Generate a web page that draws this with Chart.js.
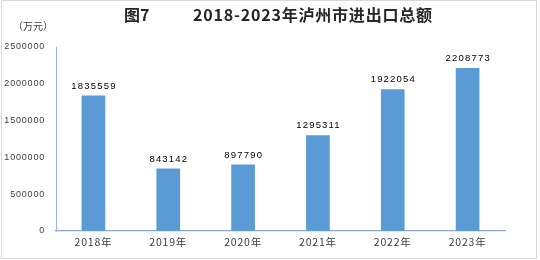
<!DOCTYPE html>
<html>
<head>
<meta charset="utf-8">
<script src="https://cdn.jsdelivr.net/npm/chart.js@4/dist/chart.umd.min.js"></script>
<style>
  html, body { margin: 0; padding: 0; background: #ffffff; }
  #wrap { width: 540px; height: 260px; position: relative; }
</style>
</head>
<body>
<div id="wrap"><canvas id="c" width="540" height="260"></canvas></div>
<script>
const categories = ['2018年', '2019年', '2020年', '2021年', '2022年', '2023年'];
const totals = [1835559, 843142, 897790, 1295311, 1922054, 2208773];
const yTicks = [0, 500000, 1000000, 1500000, 2000000, 2500000];
const titleFig = '图7';
const titleMain = '2018-2023年泸州市进出口总额';
const unitLabel = '（万元）';

const spacing = {
  id: 'spacing',
  beforeLayout(chart) { chart.ctx.letterSpacing = '0.8px'; },
  beforeDraw(chart) { chart.ctx.letterSpacing = '0.8px'; }
};

const decor = {
  id: 'decor',
  afterDatasetsDraw(chart) {
    const ctx = chart.ctx;
    ctx.save();
    ctx.letterSpacing = '0px';
    // frame
    ctx.strokeStyle = '#D9D9D9';
    ctx.lineWidth = 1;
    ctx.strokeRect(1.5, 0.5, 535, 258);
    // titles
    ctx.fillStyle = '#262626';
    ctx.font = 'bold 16px "Noto Sans CJK SC"';
    ctx.textBaseline = 'middle';
    ctx.textAlign = 'left';
    ctx.fillText(titleFig, 124, 15);
    ctx.letterSpacing = '0.8px';
    ctx.fillText(titleMain, 193, 15);
    ctx.letterSpacing = '0px';
    // unit
    ctx.font = '10px "Noto Sans CJK SC"';
    ctx.fillStyle = '#404040';
    ctx.fillText(unitLabel, 13, 26);
    // data labels
    const meta = chart.getDatasetMeta(0);
    ctx.font = '9.5px "Liberation Sans"';
    ctx.letterSpacing = '1.2px';
    ctx.fillStyle = '#000000';
    ctx.textAlign = 'center';
    meta.data.forEach((bar, i) => {
      ctx.fillText(String(totals[i]), bar.x + 0.6, bar.y - 10);
    });
    ctx.restore();
  }
};

new Chart(document.getElementById('c'), {
  type: 'bar',
  data: {
    labels: categories,
    datasets: [{
      data: totals,
      backgroundColor: '#5B9BD5',
      borderWidth: 0,
      barThickness: 23
    }]
  },
  options: {
    responsive: false,
    animation: false,
    events: [],
    layout: { padding: { top: 47, left: 0, right: 35, bottom: 0 } },
    plugins: {
      legend: { display: false },
      tooltip: { enabled: false },
      title: { display: false }
    },
    scales: {
      x: {
        grid: { display: false, drawTicks: false },
        border: { display: true, color: '#8EA8C8', width: 1.2 },
        ticks: {
          color: '#404040',
          font: { family: '"Noto Sans CJK SC"', size: 10.5 },
          padding: 5,
          maxRotation: 0
        },
        afterFit(s) { s.height = 29; }
      },
      y: {
        min: 0,
        max: 2500000,
        afterBuildTicks(s) { s.ticks = yTicks.map(v => ({ value: v })); },
        grid: { display: false, drawTicks: false },
        border: { display: true, color: '#9DB4D2', width: 1 },
        ticks: {
          color: '#404040',
          font: { family: '"Liberation Sans"', size: 9 },
          padding: 11,
          callback: (v) => String(v)
        },
        afterFit(s) { s.width = 56; }
      }
    }
  },
  plugins: [spacing, decor]
});
</script>
</body>
</html>
